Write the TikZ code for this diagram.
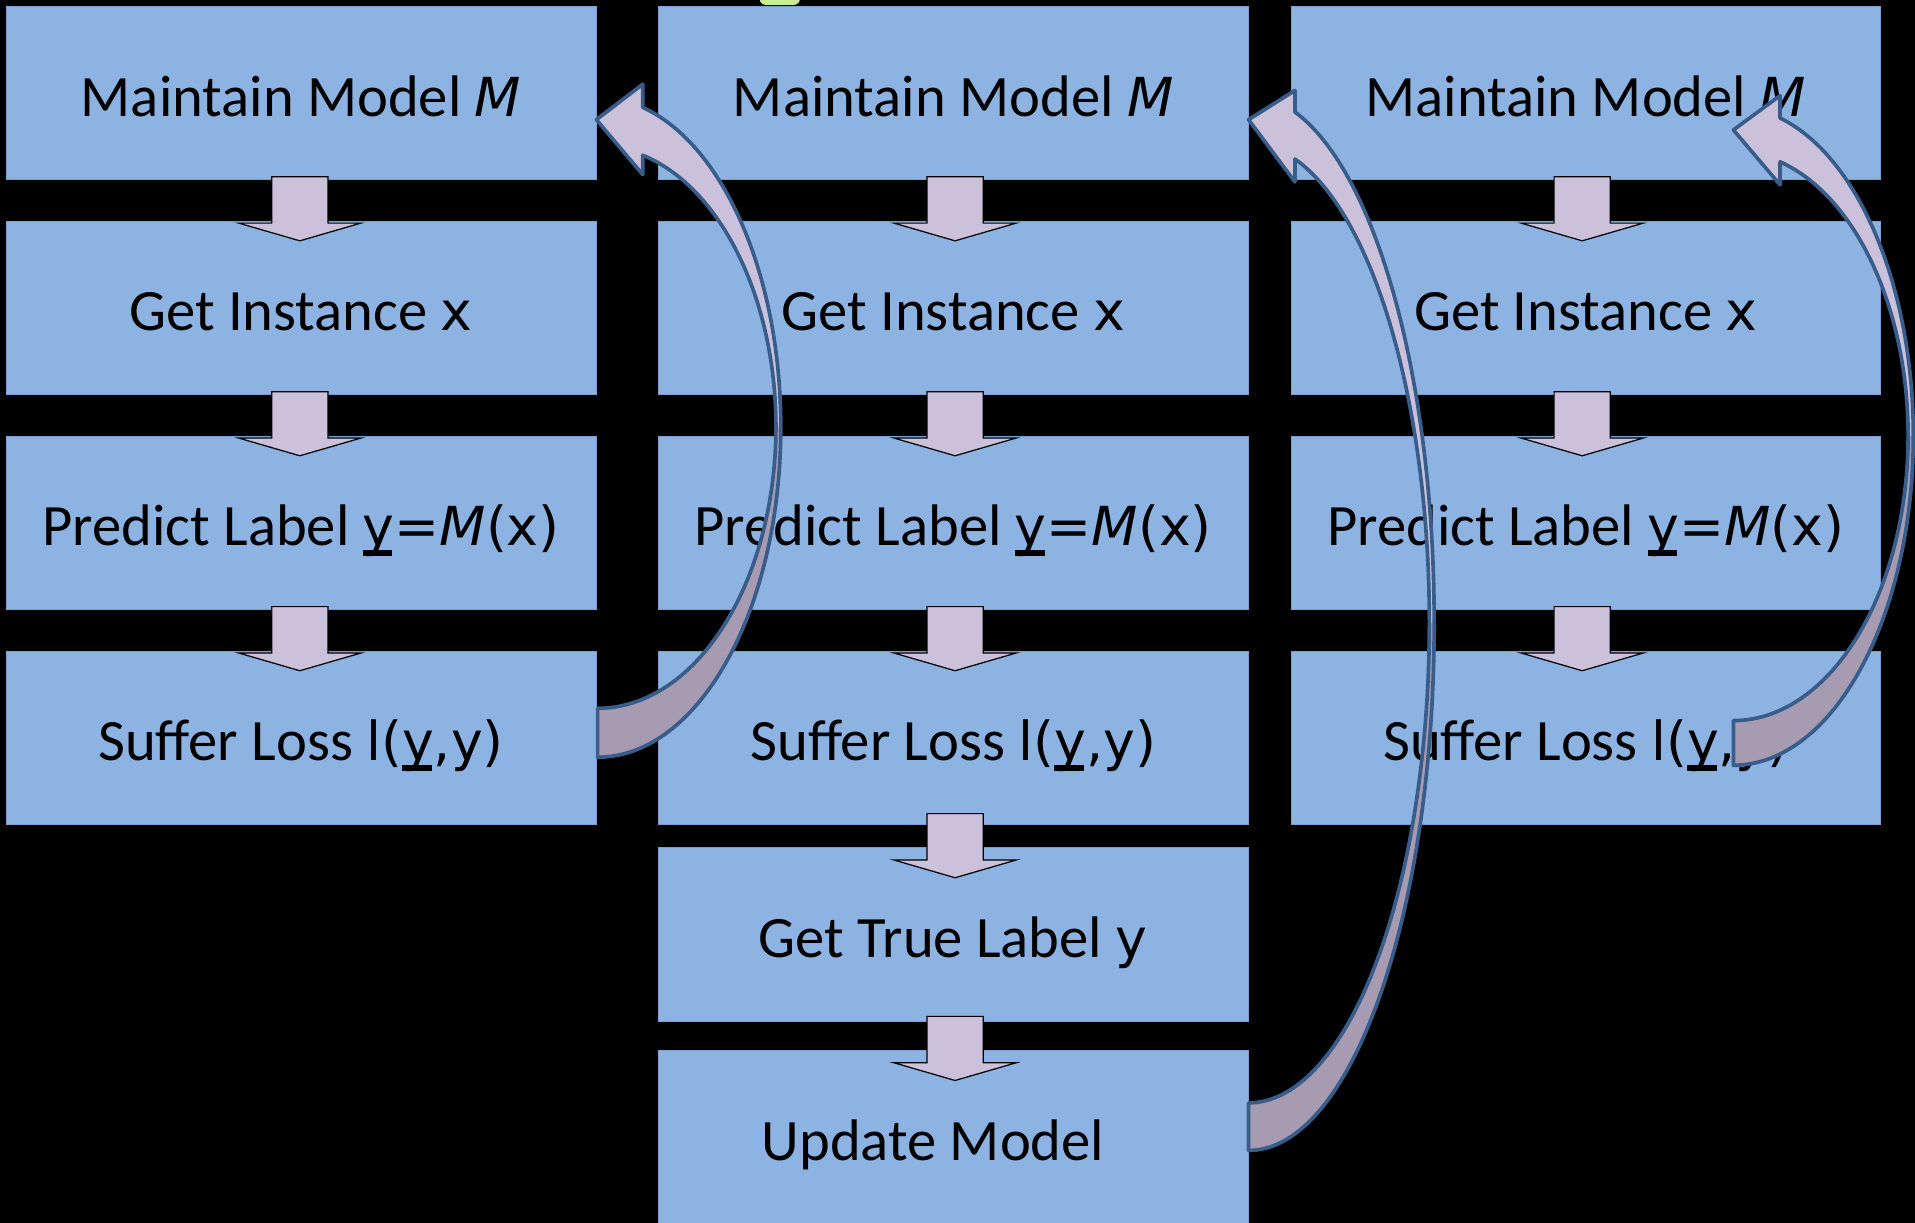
\documentclass[tikz,border=0pt]{standalone}
\usepackage{fontspec}
\setmainfont{Carlito}
\newfontfamily\symfont{DejaVu Sans}
\usetikzlibrary{calc}
\definecolor{boxblue}{HTML}{8DB3E2}
\definecolor{boxedge}{HTML}{7A9FD0}
\definecolor{lav}{HTML}{CCC1DA}
\definecolor{lavdark}{HTML}{A69BB0}
\definecolor{arrowedge}{HTML}{385D8A}
\definecolor{bubble}{HTML}{C4F08E}
\newcommand\sym[1]{{\symfont\fontsize{44}{52}\selectfont #1}}
\newcommand\uy{\leavevmode\rlap{\rule[-0.18em]{0.55em}{0.1em}}y}
\newcommand\mM{\sym{\itshape M}}
\newcommand\dnarrow[4]{\draw[dnarrowstyle] ($(#1.south |- #2.north)+(#4,-#3)$) -- ++(-50,14.5) -- ++(27,0) -- ++(0,38) -- ++(46,0) -- ++(0,-38) -- ++(27,0) -- cycle;}
\begin{document}
\begin{tikzpicture}[x=1pt,y=1pt,
  stage/.style={rectangle, fill=boxblue, draw=boxedge, line width=0.6pt, minimum width=483pt, minimum height=142pt, inner sep=0pt, text height=44pt, text depth=6pt, font=\fontsize{48}{58}\selectfont, text=black},
  dnarrowstyle/.style={fill=lav, draw=black, line width=1pt, line join=miter},
  loopfront/.style={fill=lav},
  loopback/.style={fill=lavdark},
  loopedge/.style={draw=arrowedge, line width=3pt, line join=round}]
\useasboundingbox (0,0) rectangle (1568,1001);
\clip (0,0) rectangle (1568,1001);
\fill[black] (0,0) rectangle (1568,1001);
\fill[bubble, rounded corners=5pt] (622,997) rectangle (655,1012);

% column 1
\node[stage] (b11) at (246.5,925) {Maintain Model \mM};
\node[stage] (b12) at (246.5,749) {Get Instance \sym{x}};
\node[stage] (b13) at (246.5,573) {Predict Label \sym{\uy=\mM(x)}};
\node[stage] (b14) at (246.5,397) {Suffer Loss \sym{l(\uy,y)}};
% column 2
\node[stage] (b21) at (780.5,925) {Maintain Model \mM};
\node[stage] (b22) at (780.5,749) {Get Instance \sym{x}};
\node[stage] (b23) at (780.5,573) {Predict Label \sym{\uy=\mM(x)}};
\node[stage] (b24) at (780.5,397) {Suffer Loss \sym{l(\uy,y)}};
\node[stage] (b25) at (780.5,236) {Get True Label \sym{y}};
\node[stage] (b26) at (780.5,70) {\hspace*{-33pt}Update Model};
% column 3
\node[stage] (b31) at (1298.5,925) {Maintain Model \mM};
\node[stage] (b32) at (1298.5,749) {Get Instance \sym{x}};
\node[stage] (b33) at (1298.5,573) {Predict Label \sym{\uy=\mM(x)}};
\node[stage] (b34) at (1298.5,397) {Suffer Loss \sym{l(\uy,y)}};

% straight block arrows
\dnarrow{b11}{b12}{16.5}{-1}
\dnarrow{b12}{b13}{16.5}{-1}
\dnarrow{b13}{b14}{16.5}{-1}
\dnarrow{b21}{b22}{16.5}{1.5}
\dnarrow{b22}{b23}{16.5}{1.5}
\dnarrow{b23}{b24}{16.5}{1.5}
\dnarrow{b24}{b25}{25}{1.5}
\dnarrow{b25}{b26}{25}{1.5}
\dnarrow{b31}{b32}{16.5}{-3}
\dnarrow{b32}{b33}{16.5}{-3}
\dnarrow{b33}{b34}{16.5}{-3}

% curved arrow A: b14 -> b11
\def\pathA{($(b14.east)+(1,-16)$) arc[start angle=-90, end angle=75.72, x radius=150pt, y radius=270.2pt] -- ++(0,19) -- ($(b11.east)+(0,-22)$) -- ++(38,-45) -- ++(0,15.9) arc[start angle=75.32, end angle=-90, x radius=146pt, y radius=230.2pt] -- cycle}
\fill[loopfront] \pathA;
\begin{scope}\clip \pathA; \fill[loopback] (0,0) rectangle (1568,651.2);\end{scope}
\draw[loopedge] \pathA;

% curved arrow B: b26 -> b21
\def\pathB{($(b26.east)+(0,-11)$) arc[start angle=-90, end angle=75.52, x radius=152pt, y radius=432pt] -- ++(0,17.7) -- ($(b21.east)+(0,-22)$) -- ++(38,-51) -- ++(0,18.8) arc[start angle=75.12, end angle=-90, x radius=148pt, y radius=393pt] -- cycle}
\fill[loopfront] \pathB;
\begin{scope}\clip \pathB; \fill[loopback] (0,0) rectangle (1568,491);\end{scope}
\draw[loopedge] \pathB;

% curved arrow C: b34 -> b31
\def\pathC{($(b34.center)+(120.8,-22.6)$) arc[start angle=-90, end angle=74.97, x radius=147.3pt, y radius=269.6pt] -- ++(0,18.3) -- ($(b31.center)+(120.8,-30.4)$) -- ++(38.2,-45) -- ++(0,18.9) arc[start angle=74.51, end angle=-90, x radius=143pt, y radius=233pt] -- cycle}
\fill[loopfront] \pathC;
\begin{scope}\clip \pathC; \fill[loopback] (0,0) rectangle (1568,644);\end{scope}
\draw[loopedge] \pathC;
\end{tikzpicture}
\end{document}
